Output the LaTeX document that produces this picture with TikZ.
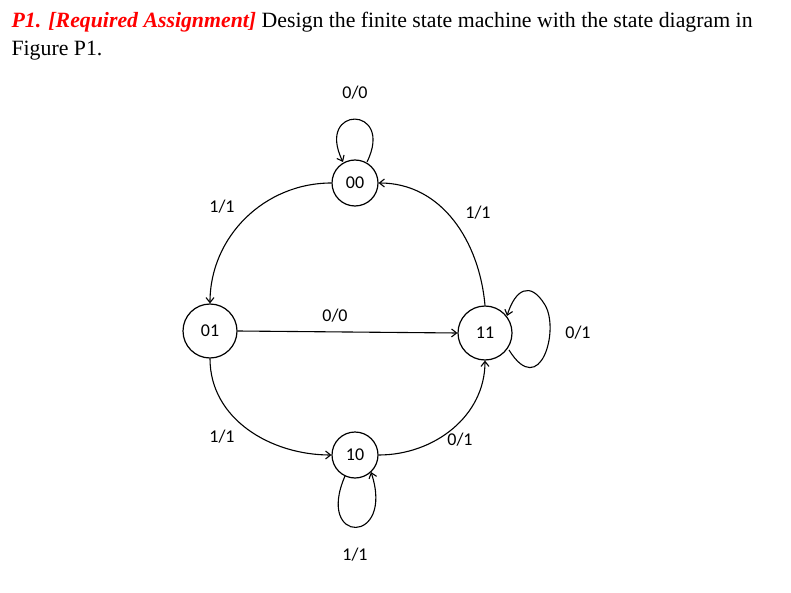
\documentclass[tikz,border=0pt]{standalone}
\usepackage{fontspec}
\setmainfont{Liberation Serif}
\newfontfamily\lblfont{Carlito}
\usetikzlibrary{arrows.meta}
\begin{document}
\begin{tikzpicture}[x=1pt,y=-1pt,
  st/.style={circle,draw,line width=1.2pt,minimum size=46pt,inner sep=0pt,font=\lblfont\fontsize{18}{20}\selectfont},
  lb/.style={font=\lblfont\fontsize{18}{20}\selectfont},
  ed/.style={draw,line width=1.1pt,-{Straight Barb[length=5pt,width=8pt]}}]
\useasboundingbox (0,0) rectangle (791,593);
\node[anchor=west,font=\fontsize{21.8}{26}\selectfont] (t1) at (8,22) {\textcolor{red}{\textbf{\textit{P1. [Required Assignment]}}} Design the finite state machine with the state diagram in};
\node[anchor=west,font=\fontsize{21.8}{26}\selectfont] (t2) at (8,51) {Figure P1.};
\node[st] (s00) at (355,183) {00};
\node[st,minimum size=54pt] (s01) at (210,331) {01};
\node[st,minimum size=54pt] (s11) at (485,333) {11};
\node[st] (s10) at (355,455) {10};
\coordinate (a1) at (343,162);
\coordinate (a2) at (367,162);
\path[ed] (a2) .. controls (395,105) and (315,105) .. (a1);
\node[lb] (l1) at (355,93) {0/0};
\path[ed] (s00.180) to[out=180,in=90] (s01.90);
\node[lb] (l2) at (222,207) {1/1};
\path[ed] (s11.90) to[out=95,in=0] (s00.0);
\node[lb] (l3) at (478,213) {1/1};
\path[ed] (s01.0) -- (s11.180);
\node[lb] (l4) at (335,316) {0/0};
\coordinate (b1) at (509,350);
\coordinate (b2) at (507,316);
\path[ed] (b1) .. controls (540,400) and (560,330) .. (545,305) .. controls (530,280) and (515,290) .. (b2);
\node[lb] (l5) at (578,333) {0/1};
\path[ed] (s01.270) to[out=-90,in=180] (s10.180);
\node[lb] (l6) at (222,437) {1/1};
\path[ed] (s10.0) to[out=0,in=-90] (s11.270);
\node[lb] (l7) at (460,440) {0/1};
\coordinate (c1) at (345,476);
\coordinate (c2) at (371,472);
\path[ed] (c1) .. controls (315,545) and (395,545) .. (c2);
\node[lb] (l8) at (355,555) {1/1};
\end{tikzpicture}
\end{document}
